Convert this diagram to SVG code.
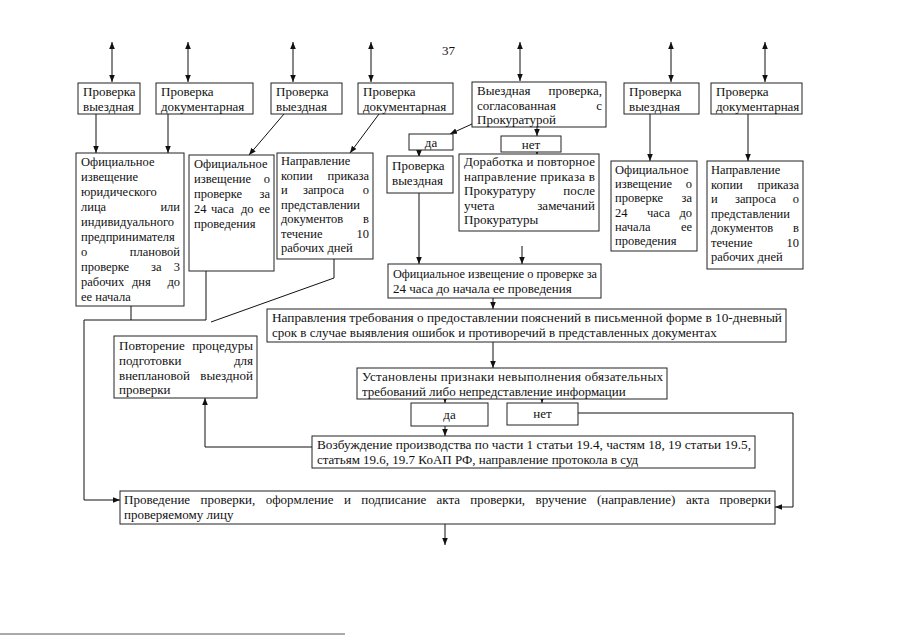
<svg xmlns="http://www.w3.org/2000/svg" width="905" height="640" viewBox="0 0 905 640">
<defs>
<marker id="ah" markerWidth="8" markerHeight="8" refX="7" refY="4" orient="auto-start-reverse" markerUnits="userSpaceOnUse"><path d="M0,1.2 L7,4 L0,6.8 z" fill="#111"/></marker>
<style>
.bx{fill:#fff;stroke:#222;stroke-width:1}
.t{font-family:"Liberation Serif","Times New Roman","DejaVu Serif",serif;font-size:12.5px;fill:#111}
.b{font-size:13px}
.r{text-anchor:end}
.m{text-anchor:middle}
.ln{fill:none;stroke:#111;stroke-width:1}
.ar{fill:none;stroke:#111;stroke-width:1;marker-end:url(#ah)}
.da{fill:none;stroke:#111;stroke-width:1;marker-end:url(#ah);marker-start:url(#ah)}
</style>
</defs>
<rect width="905" height="640" fill="#fff"/>
<text class="t b" x="442" y="55">37</text>
<line x1="0" y1="634" x2="345" y2="634" stroke="#555" stroke-width="1"/>

<g id="connectors">
<path class="da" d="M112,42 V82"/>
<path class="da" d="M188,42 V82"/>
<path class="da" d="M293,42 V82"/>
<path class="da" d="M371,42 V82"/>
<path class="da" d="M520,42 V81"/>
<path class="da" d="M671,42 V82"/>
<path class="da" d="M765,42 V82"/>
<path class="ar" d="M96,114 V153"/>
<path class="ar" d="M168,114 V153"/>
<path class="ar" d="M284,114 L249,155"/>
<path class="ar" d="M379,114 L350,153"/>
<path class="ar" d="M472,124 L450,134"/>
<path class="ar" d="M537,127 V136"/>
<path class="ar" d="M537,150 V155"/>
<path class="ar" d="M419,150 V157"/>
<path class="ar" d="M419,193 V264"/>
<path class="ar" d="M522,246 V264"/>
<path class="ar" d="M650,114 V161"/>
<path class="ar" d="M748,114 V161"/>
<path class="ln" d="M131,306 V320 M206,271 V320 M84,320 H206"/>
<path class="ar" d="M84,320 V500 H120"/>
<path class="ln" d="M334,259 V278 L211,322"/>
<path class="ar" d="M493,298 V309"/>
<path class="ar" d="M493,342 V368"/>
<path class="ar" d="M445,399 V403"/>
<path class="ar" d="M542,399 V403"/>
<path class="ar" d="M445,426 V436"/>
<path class="ar" d="M312,447 H205 V398"/>
<path class="ar" d="M578,413 H793 V507 H775"/>
<path class="ar" d="M445,524 V545"/>
</g>

<g id="b1"><rect class="bx" x="78" y="83" width="62" height="31"/><text class="t b" x="83" y="96">Проверка</text><text class="t b" x="83" y="110.5">выездная</text></g>
<g id="b2"><rect class="bx" x="156" y="83" width="97" height="31"/><text class="t b" x="161" y="96">Проверка</text><text class="t b" x="161" y="110.5">документарная</text></g>
<g id="b3"><rect class="bx" x="271" y="83" width="71" height="31"/><text class="t b" x="276" y="96">Проверка</text><text class="t b" x="276" y="110.5">выездная</text></g>
<g id="b4"><rect class="bx" x="358" y="83" width="95" height="31"/><text class="t b" x="363" y="96">Проверка</text><text class="t b" x="363" y="110.5">документарная</text></g>
<g id="b5"><rect class="bx" x="472" y="82" width="134" height="45"/>
<text class="t b" x="477" y="95">Выездная</text><text class="t b r" x="602" y="95">проверка,</text>
<text class="t b" x="477" y="109.5">согласованная</text><text class="t b r" x="602" y="109.5">с</text>
<text class="t b" x="477" y="124">Прокуратурой</text></g>
<g id="b6"><rect class="bx" x="624" y="83" width="75" height="31"/><text class="t b" x="629" y="96">Проверка</text><text class="t b" x="629" y="110.5">выездная</text></g>
<g id="b7"><rect class="bx" x="711" y="83" width="91" height="31"/><text class="t b" x="716" y="96">Проверка</text><text class="t b" x="716" y="110.5">документарная</text></g>

<g id="nA"><rect class="bx" x="76" y="153" width="108" height="153"/>
<text class="t" x="81" y="166">Официальное</text>
<text class="t" x="81" y="181">извещение</text>
<text class="t" x="81" y="196">юридического</text>
<text class="t" x="81" y="211">лица</text><text class="t r" x="180" y="211">или</text>
<text class="t" x="81" y="226">индивидуального</text>
<text class="t" x="81" y="241">предпринимателя</text>
<text class="t" x="81" y="256">о</text><text class="t r" x="180" y="256">плановой</text>
<text class="t" x="81" y="271">проверке</text><text class="t" x="151" y="271">за</text><text class="t r" x="180" y="271">3</text>
<text class="t" x="81" y="286">рабочих</text><text class="t" x="132" y="286">дня</text><text class="t r" x="180" y="286">до</text>
<text class="t" x="81" y="301">ее начала</text></g>

<g id="nB"><rect class="bx" x="189" y="155" width="85" height="116"/>
<text class="t" x="194" y="168">Официальное</text>
<text class="t" x="194" y="183">извещение</text><text class="t r" x="270" y="183">о</text>
<text class="t" x="194" y="198">проверке</text><text class="t r" x="270" y="198">за</text>
<text class="t" x="194" y="213">24</text><text class="t" x="211" y="213">часа</text><text class="t" x="241" y="213">до</text><text class="t r" x="270" y="213">ее</text>
<text class="t" x="194" y="228">проведения</text></g>

<g id="nC"><rect class="bx" x="277" y="153" width="96" height="106"/>
<text class="t" x="281" y="165">Направление</text>
<text class="t" x="281" y="179.5">копии</text><text class="t r" x="369" y="179.5">приказа</text>
<text class="t" x="281" y="194">и</text><text class="t" x="303" y="194">запроса</text><text class="t r" x="369" y="194">о</text>
<text class="t" x="281" y="208.5">представлении</text>
<text class="t" x="281" y="223">документов</text><text class="t r" x="369" y="223">в</text>
<text class="t" x="281" y="237.5">течение</text><text class="t r" x="369" y="237.5">10</text>
<text class="t" x="281" y="252">рабочих дней</text></g>

<g id="da1"><rect class="bx" x="409" y="134" width="44" height="16"/><text class="t b m" x="431" y="146.5">да</text></g>
<g id="net1"><rect class="bx" x="501" y="136" width="60" height="16"/><text class="t b m" x="531" y="148.5">нет</text></g>

<g id="pv"><rect class="bx" x="387" y="156" width="66" height="37"/><text class="t b" x="392" y="170">Проверка</text><text class="t b" x="392" y="184.5">выездная</text></g>

<g id="dor"><rect class="bx" x="459" y="154" width="140" height="77"/>
<text class="t b" x="464" y="166" textLength="131" lengthAdjust="spacing">Доработка и повторное</text>
<text class="t b" x="464" y="180.5" textLength="131" lengthAdjust="spacing">направление приказа в</text>
<text class="t b" x="464" y="195">Прокуратуру</text><text class="t b r" x="595" y="195">после</text>
<text class="t b" x="464" y="209.5">учета</text><text class="t b r" x="595" y="209.5">замечаний</text>
<text class="t b" x="464" y="224">Прокуратуры</text></g>

<g id="nD"><rect class="bx" x="611" y="161" width="86" height="90"/>
<text class="t" x="615" y="174">Официальное</text>
<text class="t" x="615" y="188.2">извещение</text><text class="t r" x="692" y="188.2">о</text>
<text class="t" x="615" y="202.4">проверке</text><text class="t r" x="692" y="202.4">за</text>
<text class="t" x="615" y="216.6">24</text><text class="t" x="647" y="216.6">часа</text><text class="t r" x="692" y="216.6">до</text>
<text class="t" x="615" y="230.8">начала</text><text class="t r" x="692" y="230.8">ее</text>
<text class="t" x="615" y="245">проведения</text></g>

<g id="nE"><rect class="bx" x="707" y="161" width="96" height="108"/>
<text class="t" x="711" y="174">Направление</text>
<text class="t" x="711" y="188.5">копии</text><text class="t r" x="799" y="188.5">приказа</text>
<text class="t" x="711" y="203">и</text><text class="t" x="735" y="203">запроса</text><text class="t r" x="799" y="203">о</text>
<text class="t" x="711" y="217.5">представлении</text>
<text class="t" x="711" y="232">документов</text><text class="t r" x="799" y="232">в</text>
<text class="t" x="711" y="246.5">течение</text><text class="t r" x="799" y="246.5">10</text>
<text class="t" x="711" y="261">рабочих дней</text></g>

<g id="o24"><rect class="bx" x="388" y="264" width="213" height="34"/>
<text class="t b" x="393" y="278" textLength="204" lengthAdjust="spacingAndGlyphs">Официальное извещение о проверке за</text>
<text class="t b" x="393" y="293">24 часа до начала ее проведения</text></g>

<g id="povt"><rect class="bx" x="114" y="336" width="143" height="62"/>
<text class="t b" x="119" y="350">Повторение</text><text class="t b r" x="253" y="350">процедуры</text>
<text class="t b" x="119" y="365">подготовки</text><text class="t b r" x="253" y="365">для</text>
<text class="t b" x="119" y="380">внеплановой</text><text class="t b r" x="253" y="380">выездной</text>
<text class="t b" x="119" y="394">проверки</text></g>

<g id="napr"><rect class="bx" x="267" y="309" width="519" height="33"/>
<text class="t b" x="272" y="322" textLength="510" lengthAdjust="spacingAndGlyphs">Направления требования о предоставлении пояснений в письменной форме в 10-дневный</text>
<text class="t b" x="272" y="337">срок в случае выявления ошибок и противоречий в представленных документах</text></g>

<g id="ust"><rect class="bx" x="357" y="368" width="310" height="31"/>
<text class="t b" x="362" y="381" textLength="301" lengthAdjust="spacing">Установлены признаки невыполнения обязательных</text>
<text class="t b" x="362" y="395.5">требований либо непредставление информации</text></g>

<g id="da2"><rect class="bx" x="411" y="403" width="77" height="23"/><text class="t b m" x="449.5" y="418.5">да</text></g>
<g id="net2"><rect class="bx" x="507" y="403" width="71" height="22"/><text class="t b m" x="542.5" y="418">нет</text></g>

<g id="vozb"><rect class="bx" x="312" y="436" width="443" height="32"/>
<text class="t b" x="317" y="449" textLength="434" lengthAdjust="spacingAndGlyphs">Возбуждение производства по части 1 статьи 19.4, частям 18, 19 статьи 19.5,</text>
<text class="t b" x="317" y="464">статьям 19.6, 19.7 КоАП РФ, направление протокола в суд</text></g>

<g id="final"><rect class="bx" x="120" y="491" width="655" height="33"/>
<text class="t b" y="504"><tspan x="124">Проведение</tspan><tspan x="200.5">проверки,</tspan><tspan x="265.7">оформление</tspan><tspan x="343.9">и</tspan><tspan x="361.2">подписание</tspan><tspan x="436.5">акта</tspan><tspan x="470.3">проверки,</tspan><tspan x="535.5">вручение</tspan><tspan x="596.9">(направление)</tspan><tspan x="685.9">акта</tspan></text>
<text class="t b r" x="771" y="504">проверки</text>
<text class="t b" x="124" y="519">проверяемому лицу</text></g>
</svg>
